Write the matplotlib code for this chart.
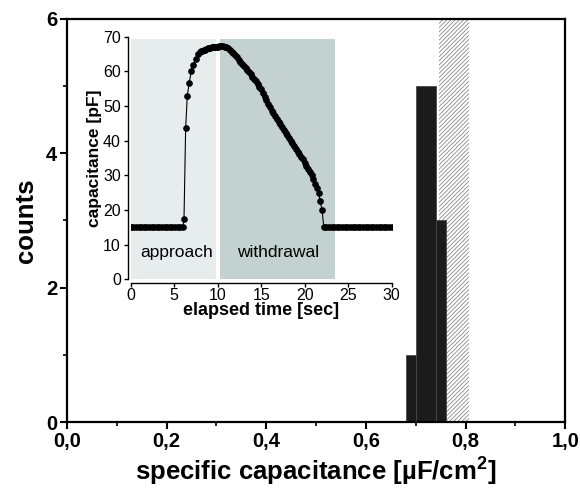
import matplotlib
matplotlib.use('Agg')
import matplotlib.pyplot as plt
from matplotlib.ticker import MultipleLocator

plt.rcParams['font.family'] = ['Liberation Sans', 'DejaVu Sans']
plt.rcParams['mathtext.fontset'] = 'custom'
plt.rcParams['mathtext.bf'] = 'Liberation Sans:bold'
plt.rcParams['mathtext.rm'] = 'Liberation Sans'
plt.rcParams['mathtext.default'] = 'bf'
plt.rcParams['hatch.linewidth'] = 0.6

# histogram of specific capacitance
bin_edges = [0.68, 0.70, 0.74, 0.76]
counts = [1, 5, 3]
band_lo, band_hi = 0.747, 0.806
x_ticks = [0.0, 0.2, 0.4, 0.6, 0.8, 1.0]
x_ticklabels = ['0,0', '0,2', '0,4', '0,6', '0,8', '1,0']
y_ticks = [0, 2, 4, 6]

# inset trace: capacitance vs elapsed time
t_pre = [0.0, 0.3, 0.6, 0.9, 1.2, 1.5, 1.8, 2.1, 2.4, 2.7, 3.0, 3.3, 3.6, 3.9,
         4.2, 4.5, 4.8, 5.1, 5.4, 5.7, 6.0]
c_pre = [15.0, 15.0, 15.0, 15.0, 15.0, 15.0, 15.0, 15.0, 15.0, 15.0, 15.0,
         15.0, 15.0, 15.1, 15.1, 15.1, 15.1, 15.1, 15.1, 15.1, 15.1]
t_rise = [6.13, 6.32, 6.51, 6.72, 6.97, 7.2, 7.5, 7.78, 7.95, 8.1, 8.25, 8.4,
          8.55, 8.7, 8.85, 9.0, 9.15, 9.3, 9.45, 9.6, 9.75, 9.9, 10.05]
c_rise = [17.5, 43.6, 53.0, 56.5, 60.1, 61.8, 63.6, 65.0, 65.5, 65.8, 66.0, 66.2,
          66.3, 66.5, 66.6, 66.7, 66.8, 66.9, 66.9, 67.0, 67.0, 67.1, 67.1]
t_fall = [10.2, 10.4, 10.6, 10.8, 11.0, 11.2, 11.4, 11.6, 11.8, 12.0, 12.2, 12.4,
          12.6, 12.8, 13.0, 13.2, 13.4, 13.6, 13.8, 14.0, 14.2, 14.4, 14.6, 14.8,
          15.0, 15.2, 15.4, 15.6, 15.8, 16.0, 16.2, 16.4, 16.6, 16.8, 17.0, 17.2,
          17.4, 17.6, 17.8, 18.0, 18.2, 18.4, 18.6, 18.8, 19.0, 19.2, 19.4, 19.6,
          19.8, 20.0, 20.2, 20.4, 20.6, 20.8, 21.0, 21.2, 21.4, 21.6, 21.8, 22.0]
c_fall = [67.2, 67.2, 67.2, 67.1, 66.9, 66.6, 66.2, 65.7, 65.2, 64.6, 64.0, 63.4,
          62.8, 62.2, 61.6, 61.0, 60.4, 59.8, 59.1, 58.5, 57.8, 57.1, 56.4, 55.6,
          54.8, 53.8, 52.6, 51.6, 50.6, 49.6, 48.7, 47.9, 47.1, 46.3, 45.5, 44.7,
          43.9, 43.1, 42.3, 41.6, 40.8, 40.0, 39.2, 38.5, 37.6, 36.8, 36.1, 35.3,
          34.6, 33.6, 32.8, 31.9, 31.0, 30.1, 28.9, 27.6, 26.2, 24.8, 22.5, 19.9]
t_post = [22.2, 22.5, 22.8, 23.1, 23.4, 23.7, 24.0, 24.3, 24.6, 24.9, 25.2, 25.5,
          25.8, 26.1, 26.4, 26.7, 27.0, 27.3, 27.6, 27.9, 28.2, 28.5, 28.8, 29.1,
          29.4, 29.7, 30.0]
c_post = [15.1, 15.1, 15.1, 15.1, 15.1, 15.1, 15.1, 15.1, 15.1, 15.0, 15.0, 15.0,
          15.0, 15.0, 15.0, 15.0, 15.0, 15.0, 15.0, 15.0, 15.0, 15.0, 15.0, 15.0,
          15.0, 15.0, 15.0]
approach_span = (0.05, 9.8)
withdrawal_span = (10.25, 23.5)
shade_top = 69.3

fig = plt.figure(figsize=(5.8, 4.93), dpi=100)
ax = fig.add_axes([0.1155, 0.144, 0.859, 0.818])

# hatched band behind the bars
ax.axvspan(band_lo, band_hi, ymin=0, ymax=1, facecolor='white',
           edgecolor='#8a8a8a', hatch='////////', linewidth=0, zorder=1)

lefts = bin_edges[:-1]
widths = [b - a for a, b in zip(bin_edges[:-1], bin_edges[1:])]
ax.bar(lefts, counts, width=widths, align='edge', color='#1b1b1b',
       edgecolor='#4a4a4a', linewidth=0.6, zorder=2)

ax.set_xlim(0, 1.0)
ax.set_ylim(0, 6)
ax.set_xticks(x_ticks)
ax.set_xticklabels(x_ticklabels)
ax.xaxis.set_minor_locator(MultipleLocator(0.1))
ax.set_yticks(y_ticks)
ax.yaxis.set_minor_locator(MultipleLocator(1))
ax.tick_params(which='major', direction='out', length=5, width=1.5,
               labelsize=14.5, pad=2)
ax.tick_params(which='minor', direction='out', length=3, width=1.2)
for lab in ax.get_xticklabels() + ax.get_yticklabels():
    lab.set_fontweight('bold')
for sp in ax.spines.values():
    sp.set_linewidth(1.6)
ax.set_xlabel(r'specific capacitance [µF/cm$^2$]', fontsize=18.5,
              fontweight='bold', labelpad=4)
ax.set_ylabel('counts', fontsize=18.5, fontweight='bold', labelpad=6)

# inset
ins = fig.add_axes([0.2253, 0.4335, 0.45, 0.4921])
ins.set_facecolor('none')
ins.axvspan(*approach_span, ymin=0, ymax=shade_top / 70, color='#e7eded',
            linewidth=0, zorder=0)
ins.axvspan(*withdrawal_span, ymin=0, ymax=shade_top / 70, color='#c4d1d1',
            linewidth=0, zorder=0)

t_all = t_pre + t_rise + t_fall + t_post
c_all = c_pre + c_rise + c_fall + c_post
ins.plot(t_all, c_all, color='black', linewidth=0.8, marker='o',
         markersize=3.8, zorder=3)

ins.text(5.3, 7.8, 'approach', fontsize=12.5, ha='center', va='center')
ins.text(17.0, 7.8, 'withdrawal', fontsize=12.5, ha='center', va='center')

ins.set_xlim(0, 30)
ins.set_ylim(0, 70)
ins.set_xticks([0, 5, 10, 15, 20, 25, 30])
ins.set_yticks([0, 10, 20, 30, 40, 50, 60, 70])
ins.spines['top'].set_visible(False)
ins.spines['right'].set_visible(False)
ins.spines['left'].set_position(('outward', 2))
ins.spines['bottom'].set_position(('outward', 3))
for sp in ('left', 'bottom'):
    ins.spines[sp].set_linewidth(1.0)
ins.tick_params(axis='y', direction='out', length=3, width=1.0, labelsize=11.5, pad=2)
ins.tick_params(axis='x', direction='out', length=3, width=1.0, labelsize=11.5, pad=0.5)
ins.set_xlabel('elapsed time [sec]', fontsize=13, fontweight='bold', labelpad=-1)
ins.set_ylabel('capacitance [pF]', fontsize=12.5, fontweight='bold', labelpad=1)

fig.savefig('out.png', dpi=100)
